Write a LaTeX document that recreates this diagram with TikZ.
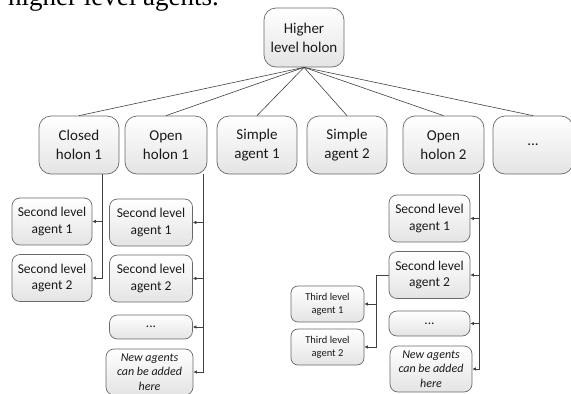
\documentclass[tikz,border=0pt]{standalone}
\usepackage{fontspec}
\setmainfont{Carlito}
\newfontfamily\timesfont{Liberation Serif}
\usetikzlibrary{arrows.meta, positioning}
\definecolor{bBox}{RGB}{105, 105, 105}
\definecolor{cBot}{RGB}{228, 228, 228}
\definecolor{tLine}{RGB}{64, 64, 64}
\definecolor{tDark}{RGB}{26, 26, 26}

\begin{document}
\begin{tikzpicture}[
    x=1pt, y=-1pt,
    >={Latex[length=3.5pt, width=3.5pt]},
    box/.style={
        draw=bBox,
        line width=0.7pt,
        top color=white,
        bottom color=cBot,
        align=center,
        text=tDark,
        inner sep=0pt
    },
    holonbox/.style={box, rounded corners=12pt, minimum width=80pt, minimum height=58pt,
        font=\fontsize{15}{19}\selectfont},
    agentbox/.style={box, rounded corners=8pt, minimum width=82pt, minimum height=47pt,
        font=\fontsize{13.5}{16.5}\selectfont},
    subbox/.style={box, rounded corners=7pt, minimum width=73pt, minimum height=36pt,
        font=\fontsize{10.5}{13}\selectfont},
    link/.style={line width=0.6pt, color=tLine},
    arrow/.style={->, line width=0.9pt, color=tLine}
]
\useasboundingbox (0,0) rectangle (571,394);

% caption line cut by the page edge
\node[anchor=base west, inner sep=0pt, font=\timesfont\fontsize{27}{31}\selectfont] (caption) at (8,5) {higher level agents.};

% top level
\node[holonbox, minimum height=59pt] (top) at (304,37.5) {Higher\\level holon};

% first level
\node[holonbox] (closed) at (79,145) {Closed\\holon 1};
\node[holonbox, minimum width=82pt] (open1) at (166,145) {Open\\holon 1};
\node[holonbox] (simple1) at (257,145) {Simple\\agent 1};
\node[holonbox] (simple2) at (347,145) {Simple\\agent 2};
\node[holonbox, minimum width=81pt] (open2) at (443.5,145) {Open\\holon 2};
\node[holonbox] (more) at (533,145) {...};

\foreach \n in {closed, open1, simple1, simple2, open2, more}
    \draw[link] (top.south) -- (\n.north);

% closed holon members
\node[agentbox, minimum width=80pt] (cs1) at (52,221.5) {Second level\\agent 1};
\node[agentbox, minimum width=80pt] (cs2) at (52,278) {Second level\\agent 2};

\draw[arrow] ([xshift=23pt]closed.south) |- (cs1.east);
\draw[arrow] ([xshift=23pt]closed.south) |- (cs2.east);

% open holon 1 members
\node[agentbox, minimum width=83pt] (os1) at (151,222.5) {Second level\\agent 1};
\node[agentbox, minimum width=83pt] (os2) at (151,278.5) {Second level\\agent 2};
\node[agentbox, minimum width=83pt, minimum height=24pt] (odots) at (151,327) {...};
\node[agentbox, minimum width=87pt, minimum height=46pt, font=\itshape\fontsize{12}{14.5}\selectfont] (onew) at (149.5,372) {New agents\\can be added\\here};

\foreach \n in {os1, os2, odots, onew}
    \draw[arrow] ([xshift=37pt]open1.south) |- (\n.east);

% open holon 2 members
\node[agentbox, minimum width=81pt] (ps1) at (429.5,218.5) {Second level\\agent 1};
\node[agentbox, minimum width=81pt] (ps2) at (429.5,275) {Second level\\agent 2};
\node[agentbox, minimum width=81pt, minimum height=25pt] (pdots) at (429.5,323.5) {...};
\node[agentbox, minimum width=82pt, minimum height=46pt, font=\itshape\fontsize{12}{14.5}\selectfont] (pnew) at (431,369) {New agents\\can be added\\here};

\foreach \n in {ps1, ps2, pdots, pnew}
    \draw[arrow] ([xshift=35.5pt]open2.south) |- (\n.east);

% third level under second level agent 2
\node[subbox] (t1) at (327.5,304) {Third level\\agent 1};
\node[subbox] (t2) at (327.5,347) {Third level\\agent 2};

\draw[arrow] (ps2.west) -- ++(-12,0) |- (t1.east);
\draw[arrow] (ps2.west) -- ++(-12,0) |- (t2.east);

\end{tikzpicture}
\end{document}
